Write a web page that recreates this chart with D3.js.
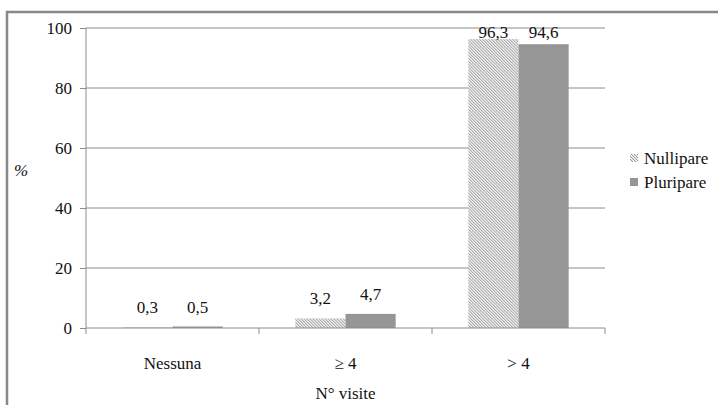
<!DOCTYPE html>
<html>
<head>
<meta charset="utf-8">
<script src="https://cdn.jsdelivr.net/npm/d3@7"></script>
</head>
<body style="margin:0">
<script>
// Chart data
var categories = ["Nessuna", "\u2265 4", "> 4"];
var seriesNames = ["Nullipare", "Pluripare"];
var nullipare = [0.3, 3.2, 96.3];
var pluripare = [0.5, 4.7, 94.6];
var yTicks = [0, 20, 40, 60, 80, 100];

var svgWidth = 718;
var svgHeight = 405;
var fontFam = "Times New Roman";

var margin = { top: 28, left: 86 };
var width = 519;
var height = 300;

var svg = d3.select("body")
    .append("svg")
    .attr("width", svgWidth)
    .attr("height", svgHeight)
    .attr("font-family", fontFam)
    .attr("font-size", 17);

// hatch pattern for Nullipare
var defs = svg.append("defs");
var pat = defs.append("pattern")
    .attr("id", "hatch")
    .attr("patternUnits", "userSpaceOnUse")
    .attr("width", 3)
    .attr("height", 3);
pat.append("rect").attr("width", 3).attr("height", 3).attr("fill", "#eeeeee");
pat.append("path")
    .attr("d", "M0,0 L3,3 M-1,2 L1,4 M2,-1 L4,1")
    .attr("stroke", "#858585")
    .attr("stroke-width", 0.85);

// outer frame
svg.append("rect")
    .attr("x", 7)
    .attr("y", 12)
    .attr("width", 730)
    .attr("height", 420)
    .attr("fill", "none")
    .attr("stroke", "#888")
    .attr("stroke-width", 2.5);

var chartGroup = svg.append("g")
    .attr("transform", `translate(${margin.left}, ${margin.top})`);

// scales
var x0 = d3.scaleBand()
    .domain(categories)
    .range([0, width])
    .paddingInner(0.42)
    .paddingOuter(0.21);

var x1 = d3.scaleBand()
    .domain(seriesNames)
    .range([0, x0.bandwidth()]);

var y = d3.scaleLinear()
    .domain([0, 100])
    .range([height, 0]);

var step = width / categories.length;

// gridlines
chartGroup.selectAll(".grid")
    .data(yTicks.filter(d => d > 0))
    .enter().append("line")
    .attr("x1", 0)
    .attr("x2", width)
    .attr("y1", d => y(d))
    .attr("y2", d => y(d))
    .attr("stroke", "#8c8c8c")
    .attr("stroke-width", 1);

// y axis
var leftAxis = d3.axisLeft(y).tickValues(yTicks).tickSize(6).tickPadding(8).tickFormat(d3.format("d"));
var yAxisG = chartGroup.append("g").call(leftAxis)
    .attr("font-family", fontFam)
    .attr("font-size", 17);
yAxisG.select(".domain").remove();
yAxisG.append("line")
    .attr("x1", 0).attr("x2", 0)
    .attr("y1", 0).attr("y2", height + 6)
    .attr("stroke", "#8c8c8c");
yAxisG.selectAll(".tick line").attr("stroke", "#8c8c8c");
yAxisG.selectAll(".tick text")
    .attr("fill", "#111")
    .attr("style", "font-family: 'Times New Roman', serif; font-size: 17px");

// bars
var series = [nullipare, pluripare];
var groups = chartGroup.selectAll(".cat")
    .data(categories)
    .enter().append("g")
    .attr("transform", d => `translate(${x0(d)},0)`);

groups.selectAll("rect")
    .data((d, i) => seriesNames.map((s, j) => ({ s: s, v: series[j][i] })))
    .enter().append("rect")
    .attr("x", d => x1(d.s))
    .attr("width", x1.bandwidth())
    .attr("y", d => y(d.v))
    .attr("height", d => height - y(d.v))
    .attr("fill", d => d.s === "Nullipare" ? "url(#hatch)" : "#969696");

// value labels
groups.selectAll(".val")
    .data((d, i) => seriesNames.map((s, j) => ({ s: s, v: series[j][i] })))
    .enter().append("text")
    .attr("x", d => x1(d.s) + x1.bandwidth() / 2)
    .attr("y", d => Math.max(y(d.v) - 14, 10))
    .attr("text-anchor", "middle")
    .attr("fill", "#111")
    .attr("style", "font-family: 'Times New Roman', serif; font-size: 17px")
    .text(d => d3.format(".1f")(d.v).replace(".", ","));

// x axis
chartGroup.append("line")
    .attr("x1", 0).attr("x2", width)
    .attr("y1", height).attr("y2", height)
    .attr("stroke", "#8c8c8c");

chartGroup.selectAll(".xtick")
    .data(d3.range(1, categories.length + 1))
    .enter().append("line")
    .attr("x1", d => d * step).attr("x2", d => d * step)
    .attr("y1", height).attr("y2", height + 6)
    .attr("stroke", "#8c8c8c");

chartGroup.selectAll(".xlab")
    .data(categories)
    .enter().append("text")
    .attr("x", d => x0(d) + x0.bandwidth() / 2)
    .attr("y", height + 41)
    .attr("text-anchor", "middle")
    .attr("fill", "#111")
    .attr("style", "font-family: 'Times New Roman', serif; font-size: 17px")
    .text(d => d);

// axis titles
chartGroup.append("text")
    .attr("x", width / 2)
    .attr("y", height + 71)
    .attr("text-anchor", "middle")
    .attr("fill", "#111")
    .attr("style", "font-family: 'Times New Roman', serif; font-size: 17px")
    .text("N\u00b0 visite");

svg.append("text")
    .attr("x", 14)
    .attr("y", 176)
    .attr("font-style", "italic")
    .attr("fill", "#111")
    .attr("style", "font-family: 'Times New Roman', serif; font-size: 17px")
    .text("%");

// legend
var legend = svg.append("g").attr("transform", "translate(630, 150)");
seriesNames.forEach(function(s, i) {
    legend.append("rect")
        .attr("x", 0)
        .attr("y", i * 24 + 4)
        .attr("width", 8)
        .attr("height", 8)
        .attr("fill", i === 0 ? "url(#hatch)" : "#969696");
    legend.append("text")
        .attr("x", 14)
        .attr("y", i * 24 + 14)
        .attr("fill", "#111")
        .attr("style", "font-family: 'Times New Roman', serif; font-size: 17px")
        .text(s);
});
</script>
</body>
</html>
